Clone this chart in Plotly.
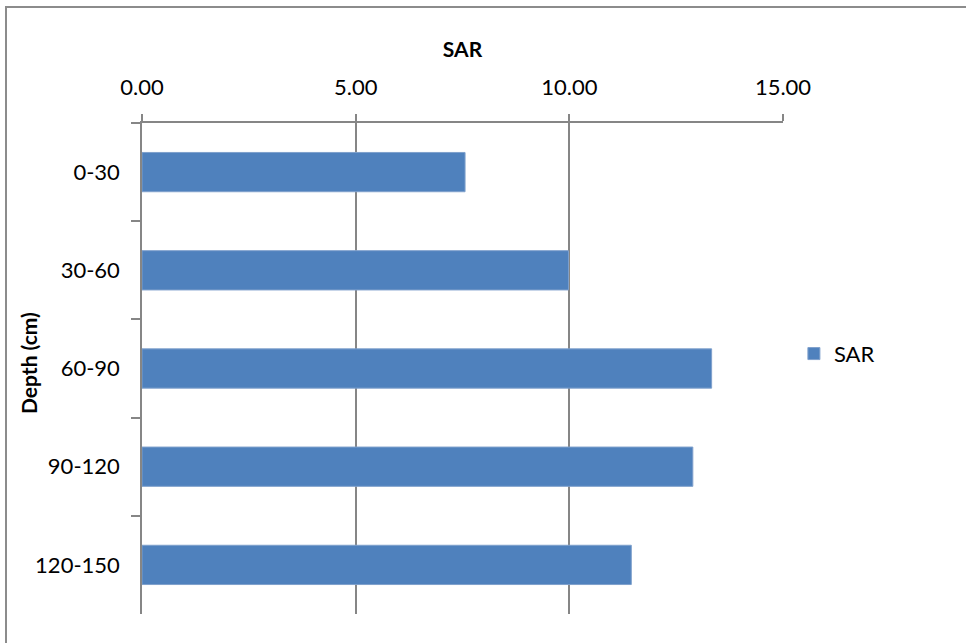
import plotly.graph_objects as go

depths = ["0-30", "30-60", "60-90", "90-120", "120-150"]
sar = [7.56, 9.98, 13.33, 12.89, 11.45]
x_ticks = [0, 5, 10, 15]
x_tick_labels = ["0.00", "5.00", "10.00", "15.00"]

FONT = "Lato, Open Sans, sans-serif"
FS = 22
AXIS_GRAY = "#868686"
W, H = 966, 643
ML, MR, MT, MB = 142, 183, 123, 29
PW, PH = W - ML - MR, H - MT - MB

fig = go.Figure()
fig.add_trace(go.Bar(
    y=depths,
    x=sar,
    orientation="h",
    name="SAR",
    width=0.4,
    marker=dict(color="#4F81BD", line=dict(color="#7FA0CC", width=1)),
))

fig.update_layout(
    width=W,
    height=H,
    margin=dict(l=ML, r=MR, t=MT, b=MB),
    paper_bgcolor="white",
    plot_bgcolor="white",
    font=dict(family=FONT, size=FS, color="black"),
    showlegend=True,
    legend=dict(
        x=1.017, y=0.53, xanchor="left", yanchor="middle",
        font=dict(family=FONT, size=FS),
        itemwidth=30,
    ),
    xaxis=dict(
        side="top",
        range=[0, 15],
        tickvals=x_ticks,
        ticktext=x_tick_labels,
        ticks="outside",
        ticklen=7,
        tickcolor=AXIS_GRAY,
        tickwidth=1.5,
        ticklabelstandoff=10,
        showline=True,
        linecolor=AXIS_GRAY,
        linewidth=1.5,
        showgrid=True,
        gridcolor=AXIS_GRAY,
        gridwidth=1.5,
        zeroline=False,
        tickfont=dict(family=FONT, size=FS),
        title=dict(text="<b>SAR</b>", font=dict(family=FONT, size=FS - 1), standoff=10),
    ),
    yaxis=dict(
        autorange="reversed",
        tickson="boundaries",
        ticks="outside",
        ticklen=9,
        tickcolor=AXIS_GRAY,
        tickwidth=1.5,
        ticklabelstandoff=16,
        showline=True,
        linecolor=AXIS_GRAY,
        linewidth=1.5,
        showgrid=False,
        tickfont=dict(family=FONT, size=FS),
    ),
)

# vertical axis title, placed in the left margin
fig.add_annotation(
    text="<b>Depth (cm)</b>", textangle=-90, showarrow=False,
    xref="paper", yref="paper",
    x=(28 - ML) / PW, y=(H - MB - 363) / PH,
    xanchor="center", yanchor="middle",
    font=dict(family=FONT, size=FS - 1, color="black"),
)

# chart frame
fig.add_shape(
    type="rect", xref="paper", yref="paper",
    x0=(6 - ML) / PW, x1=1 + 200 / PW, y0=-60 / PH, y1=(H - MB - 7) / PH,
    line=dict(color="#8C8C8C", width=2), fillcolor="rgba(0,0,0,0)",
    layer="below",
)

fig.write_html("out.html")
